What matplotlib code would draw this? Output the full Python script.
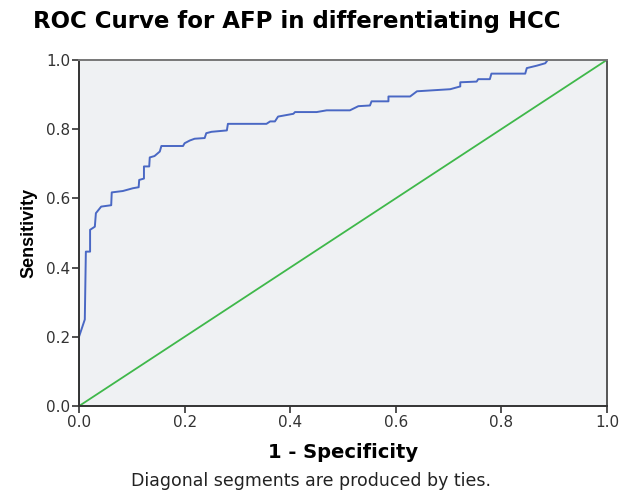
import matplotlib
matplotlib.use('Agg')
import matplotlib.pyplot as plt

# ROC curve points (1 - specificity, sensitivity)
fpr = [0.0, 0.0, 0.011, 0.013, 0.021, 0.021, 0.030, 0.032, 0.042, 0.061, 0.062,
       0.083, 0.102, 0.113, 0.114, 0.123, 0.123, 0.133, 0.134, 0.143, 0.153,
       0.156, 0.197, 0.200, 0.210, 0.219, 0.238, 0.241, 0.251, 0.280, 0.282,
       0.355, 0.362, 0.371, 0.377, 0.406, 0.409, 0.450, 0.469, 0.513, 0.529,
       0.551, 0.554, 0.586, 0.586, 0.627, 0.640, 0.703, 0.722, 0.722, 0.753,
       0.756, 0.778, 0.781, 0.845, 0.848, 0.867, 0.883, 0.888, 1.0]
tpr = [0.0, 0.200, 0.250, 0.446, 0.446, 0.509, 0.518, 0.557, 0.576, 0.580, 0.617,
       0.621, 0.629, 0.632, 0.653, 0.657, 0.692, 0.692, 0.718, 0.722, 0.735,
       0.751, 0.751, 0.759, 0.767, 0.772, 0.774, 0.788, 0.792, 0.796, 0.815,
       0.815, 0.822, 0.822, 0.836, 0.844, 0.849, 0.849, 0.854, 0.854, 0.866,
       0.868, 0.880, 0.880, 0.894, 0.894, 0.909, 0.915, 0.923, 0.935, 0.937,
       0.944, 0.944, 0.960, 0.960, 0.976, 0.983, 0.990, 1.0, 1.0]
ref_line = [0.0, 1.0]
ticks = [0.0, 0.2, 0.4, 0.6, 0.8, 1.0]

# the original text looks wide, DejaVu Sans is the closest wide sans
plt.rcParams['font.family'] = ['DejaVu Sans']

fig = plt.figure(figsize=(6.22, 4.94), dpi=100)
ax = fig.add_axes([0.127, 0.178, 0.849, 0.701])
ax.set_facecolor('#eff1f3')

ax.plot(ref_line, ref_line, color='#3fb84a', linewidth=1.3)
ax.plot(fpr, tpr, color='#4a68c4', linewidth=1.4)

ax.set_xlim(0, 1)
ax.set_ylim(0, 1)
ax.set_xticks(ticks)
ax.set_yticks(ticks)
ax.set_xticklabels([f'{t:.1f}' for t in ticks])
ax.set_yticklabels([f'{t:.1f}' for t in ticks])
ax.tick_params(direction='out', length=5, width=1.2, labelsize=11,
               colors='#333333', pad=1.5)

for side in ['left', 'bottom']:
    ax.spines[side].set_color('#333333')
    ax.spines[side].set_linewidth(1.4)
ax.spines['top'].set_color('#777777')
ax.spines['right'].set_color('#555555')
ax.spines['top'].set_linewidth(1.4)
ax.spines['right'].set_linewidth(1.4)

ax.set_xlabel('1 - Specificity', fontsize=14, fontweight='bold', labelpad=9)
ax.set_ylabel('Sensitivity', fontsize=13, fontweight='bold', labelpad=6,
              family=['Liberation Sans Narrow', 'Liberation Sans'])

fig.text(0.053, 0.957, 'ROC Curve for AFP in differentiating HCC',
         fontsize=16.5, fontweight='bold', ha='left', va='center')
fig.text(0.5, 0.016, 'Diagonal segments are produced by ties.',
         fontsize=12.5, ha='center', va='baseline', color='#222222')

fig.savefig('out.png', dpi=100)
